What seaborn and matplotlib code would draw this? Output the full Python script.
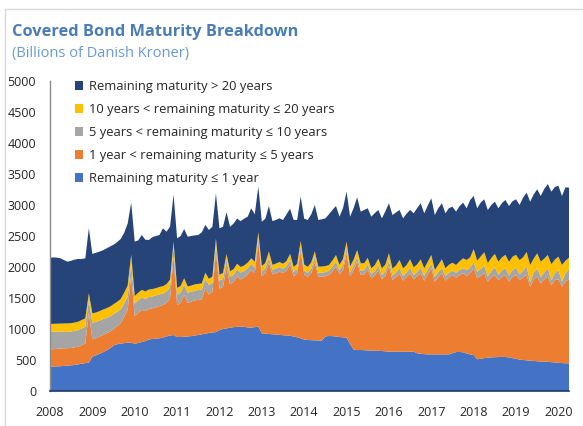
import numpy as np
import pandas as pd
import matplotlib
matplotlib.use("Agg")
import matplotlib.pyplot as plt
from matplotlib.patches import Patch, Rectangle
import seaborn as sns

# ---- data (billions DKK), monthly Jan 2008 - Apr 2020 ----
months = pd.date_range("2008-01-01", periods=148, freq="MS")

mat_le_1y = [
    392, 395, 398, 400, 405, 410, 414, 420, 430, 440, 450, 456,
    553, 575, 600, 625, 655, 688, 735, 755, 765, 772, 778, 780,
    760, 775, 790, 805, 830, 840, 845, 850, 860, 880, 895, 903,
    870, 872, 875, 880, 885, 895, 903, 915, 925, 935, 945, 950,
    984, 1000, 1010, 1022, 1030, 1035, 1038, 1035, 1025, 1022, 1030, 1038,
    930, 925, 920, 915, 912, 905, 900, 895, 890, 880, 866, 850,
    830, 823, 820, 818, 815, 812, 880, 887, 885, 880, 870, 866,
    860, 758, 667, 661, 661, 658, 655, 652, 650, 650, 645, 640,
    634, 634, 634, 634, 634, 634, 634, 634, 608, 600, 595, 591,
    591, 591, 590, 590, 590, 591, 610, 628, 630, 625, 605, 590,
    580, 511, 520, 530, 538, 543, 545, 548, 550, 548, 543, 530,
    520, 505, 500, 495, 489, 485, 480, 476, 473, 473, 465, 460,
    455, 450, 447, 447,
]
mat_1_5y = [
    280, 280, 282, 285, 283, 280, 281, 285, 285, 300, 319, 797,
    280, 275, 276, 280, 275, 269, 265, 290, 327, 427, 529, 1090,
    450, 485, 517, 485, 490, 494, 505, 520, 527, 540, 600, 1264,
    517, 548, 674, 540, 555, 565, 567, 564, 732, 625, 655, 1297,
    666, 680, 980, 698, 730, 815, 762, 795, 855, 928, 870, 1362,
    920, 975, 1150, 965, 988, 1020, 1000, 1045, 1150, 970, 1034, 1400,
    1050, 1021, 1080, 1268, 1029, 1032, 970, 984, 1045, 1125, 1010, 1084,
    1360, 1092, 1283, 1425, 1210, 1222, 1305, 1165, 1210, 1300, 1156, 1220,
    1382, 1156, 1206, 1264, 1146, 1206, 1264, 1167, 1242, 1298, 1185, 1289,
    1388, 1172, 1250, 1308, 1190, 1239, 1260, 1200, 1240, 1273, 1250, 1310,
    1399, 1306, 1340, 1368, 1225, 1287, 1326, 1242, 1290, 1323, 1220, 1310,
    1351, 1285, 1330, 1376, 1194, 1315, 1364, 1261, 1327, 1371, 1245, 1330,
    1346, 1233, 1323, 1353,
]
mat_5_10y = [
    285, 282, 277, 272, 269, 267, 265, 265, 269, 270, 269, 215,
    269, 265, 260, 255, 250, 245, 240, 232, 225, 215, 214, 190,
    200, 200, 200, 195, 195, 190, 190, 190, 185, 185, 180, 150,
    170, 170, 165, 165, 160, 160, 158, 155, 150, 150, 145, 120,
    130, 128, 125, 120, 115, 112, 110, 105, 100, 100, 95, 80,
    80, 80, 80, 75, 75, 75, 72, 72, 72, 70, 70, 70,
    60, 60, 75, 80, 65, 62, 68, 70, 75, 80, 68, 78,
    80, 65, 70, 80, 70, 70, 80, 70, 70, 75, 70, 70,
    86, 75, 70, 81, 75, 72, 90, 70, 72, 90, 75, 80,
    80, 81, 78, 81, 75, 78, 70, 81, 80, 81, 97, 90,
    95, 105, 110, 125, 85, 105, 125, 85, 105, 110, 100, 110,
    120, 90, 110, 140, 70, 110, 135, 100, 115, 135, 75, 115,
    150, 80, 130, 160,
]
mat_10_20y = [
    124, 126, 128, 130, 132, 133, 134, 134, 134, 135, 134, 108,
    151, 150, 150, 152, 155, 158, 160, 160, 165, 170, 180, 140,
    120, 125, 125, 120, 120, 120, 118, 118, 118, 118, 120, 90,
    105, 105, 105, 100, 100, 100, 100, 100, 100, 100, 100, 90,
    95, 95, 95, 92, 90, 90, 90, 90, 90, 90, 90, 80,
    85, 85, 100, 80, 80, 80, 80, 85, 100, 80, 80, 100,
    100, 98, 100, 85, 96, 100, 96, 90, 100, 108, 85, 105,
    107, 95, 100, 107, 118, 110, 108, 91, 100, 110, 108, 110,
    119, 108, 115, 134, 124, 120, 135, 124, 120, 135, 124, 125,
    135, 108, 120, 145, 124, 130, 129, 123, 140, 161, 161, 165,
    215, 180, 200, 215, 215, 210, 215, 210, 210, 215, 220, 215,
    205, 230, 215, 231, 280, 225, 242, 250, 220, 215, 260, 215,
    215, 270, 200, 190,
]
mat_gt_20y = [
    1069, 1072, 1065, 1053, 1021, 996, 1006, 1016, 1012, 985, 968, 1048,
    957, 965, 961, 958, 965, 970, 960, 963, 968, 966, 999, 840,
    879, 845, 884, 835, 801, 836, 842, 838, 934, 847, 855, 763,
    801, 805, 794, 804, 800, 790, 788, 826, 771, 787, 805, 732,
    749, 747, 672, 718, 735, 728, 740, 755, 742, 807, 765, 736,
    716, 715, 734, 705, 705, 705, 706, 753, 728, 760, 708, 714,
    740, 756, 775, 749, 753, 764, 771, 819, 815, 791, 779, 817,
    808, 802, 830, 851, 834, 860, 799, 834, 840, 785, 806, 860,
    807, 866, 855, 807, 806, 828, 797, 871, 908, 905, 887, 905,
    914, 887, 912, 904, 887, 912, 904, 861, 890, 898, 834, 925,
    857, 845, 870, 854, 857, 855, 843, 862, 875, 885, 901, 895,
    896, 890, 965, 957, 1021, 1035, 1032, 1059, 1125, 1145, 1170, 1170,
    1146, 1113, 1185, 1130,
]

labels = [
    "Remaining maturity \u2264 1 year",
    "1 year < remaining maturity \u2264 5 years",
    "5 years < remaining maturity \u2264 10 years",
    "10 years < remaining maturity \u2264 20 years",
    "Remaining maturity > 20 years",
]
colors = ["#4472C4", "#ED7D31", "#A5A5A5", "#FFC000", "#264478"]
year_ticks = list(range(2008, 2021))

df = pd.DataFrame({
    labels[0]: mat_le_1y, labels[1]: mat_1_5y, labels[2]: mat_5_10y,
    labels[3]: mat_10_20y, labels[4]: mat_gt_20y,
}, index=months)
xpos = df.index.year + (df.index.month - 1) / 12.0

sns.set_theme(style="white")
plt.rcParams["font.family"] = ["Open Sans", "DejaVu Sans"]

fig = plt.figure(figsize=(5.83, 4.26), dpi=100)
ax = fig.add_axes([50 / 583, 35 / 426, 519 / 583, 310 / 426])

ax.stackplot(xpos, *[df[c].values for c in labels], colors=colors,
             linewidth=0, edgecolor="none")

ax.set_xlim(xpos.min(), xpos.max())
ax.set_ylim(0, 5000)
ax.set_yticks(range(0, 5001, 500))
ax.set_xticks(year_ticks)
ax.set_xticklabels([str(y) for y in year_ticks])

for s in ["top", "right"]:
    ax.spines[s].set_visible(False)
ax.spines["left"].set_color("#8C8C8C")
ax.spines["left"].set_linewidth(1.0)
ax.spines["bottom"].set_color("#1F3864")
ax.spines["bottom"].set_linewidth(1.2)

ax.tick_params(axis="y", direction="inout", length=5, width=0.9,
               color="#8C8C8C", labelsize=9, labelcolor="#262626", pad=7.5)
ax.tick_params(axis="x", length=0, labelsize=9, labelcolor="#262626", pad=11)
ax.grid(False)

handles = [Patch(facecolor=colors[i], edgecolor="none", label=labels[i])
           for i in range(4, -1, -1)]
leg = ax.legend(handles=handles, loc="upper left",
                bbox_to_anchor=(75 / 583, (426 - 80) / 426),
                bbox_transform=fig.transFigure, frameon=False,
                fontsize=9.3, handlelength=0.65, handleheight=0.65,
                handletextpad=0.45, labelspacing=0.78, borderpad=0,
                borderaxespad=0)
for t in leg.get_texts():
    t.set_color("#262626")

fig.text(12 / 583, 1 - 32 / 426, "Covered Bond Maturity Breakdown",
         fontsize=11.8, fontweight="bold", color="#4A7DB5",
         ha="left", va="center")
fig.text(12 / 583, 1 - 54 / 426, "(Billions of Danish Kroner)",
         fontsize=10.5, color="#6A9BD1", ha="left", va="center")

fig.patches.append(Rectangle((5 / 583, -0.1), 1.2, (426 - 9) / 426 + 0.1,
                             transform=fig.transFigure, fill=False,
                             edgecolor="#D9D9D9", linewidth=1.0))

fig.savefig("out.png", dpi=100)
